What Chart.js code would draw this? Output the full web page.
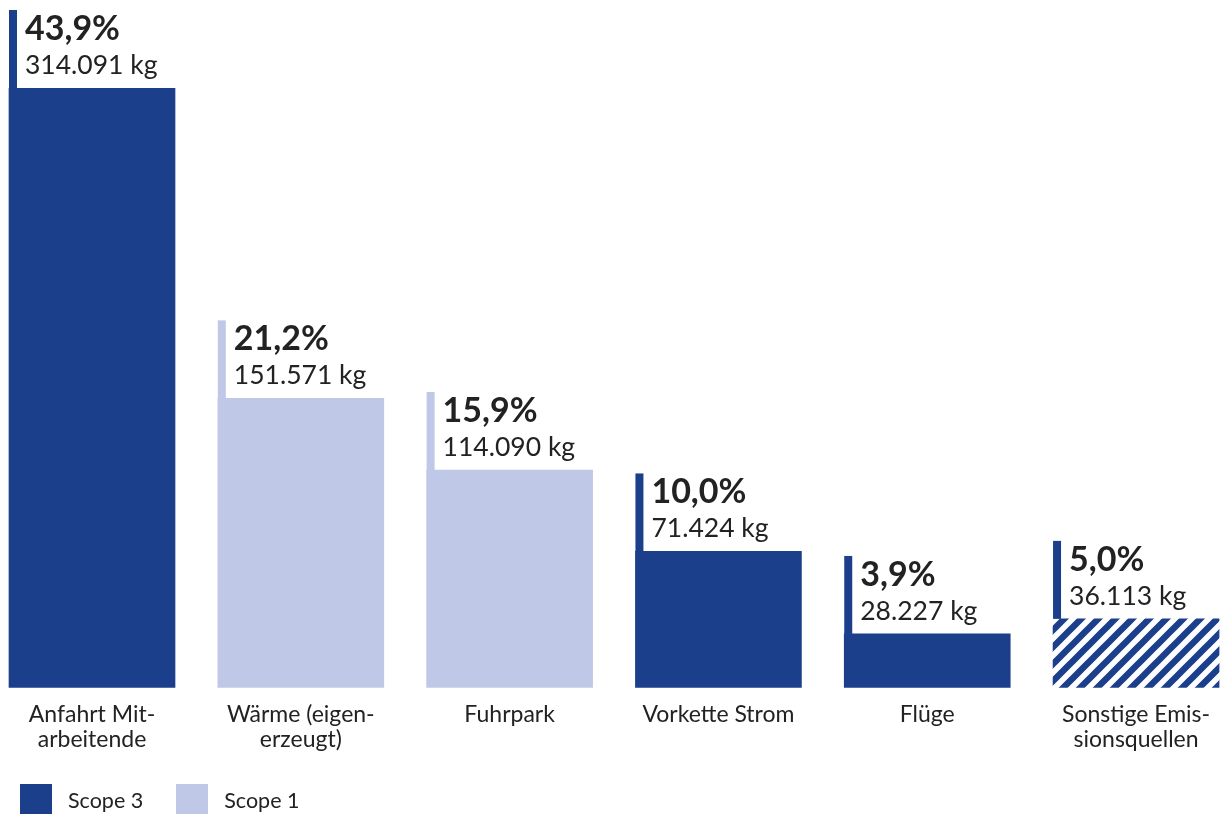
<!DOCTYPE html>
<html>
<head>
<meta charset="utf-8">
<script src="https://cdn.jsdelivr.net/npm/chart.js@4"></script>
<style>
  html, body { margin: 0; padding: 0; background: #fff; }
  #wrap { position: relative; width: 1225px; height: 814px; overflow: hidden; }
  #legend { position: absolute; left: 20px; top: 784px; font: 21.5px Lato, sans-serif; color: #222; display: flex; }
  .item { display: flex; align-items: center; margin-right: 33px; }
  .box { width: 32px; height: 31px; margin-right: 16px; }
</style>
</head>
<body>
<div id="wrap">
  <canvas id="chart" width="1225" height="814"></canvas>
  <div id="legend"></div>
</div>
<script>
const categories = [
    ['Anfahrt Mit-', 'arbeitende'],
    ['Wärme (eigen-', 'erzeugt)'],
    'Fuhrpark',
    'Vorkette Strom',
    'Flüge',
    ['Sonstige Emis-', 'sionsquellen']
];
const emissionsKg = [314091, 151571, 114090, 71424, 28227, 36113];
const shareLabels = ['43,9%', '21,2%', '15,9%', '10,0%', '3,9%', '5,0%'];
const scopes = ['3', '1', '1', '3', '3', 'other'];

const darkBlue = '#1b3f8a';
const lightBlue = '#bfc8e6';
const fontFamily = 'Lato, sans-serif';

function hatch() {
    const p = 17;
    const c = document.createElement('canvas');
    c.width = p;
    c.height = p;
    const g = c.getContext('2d');
    g.fillStyle = '#fff';
    g.fillRect(0, 0, p, p);
    g.strokeStyle = darkBlue;
    g.lineWidth = 6.5;
    g.beginPath();
    g.moveTo(-p, p); g.lineTo(p, -p);
    g.moveTo(0, p * 2); g.lineTo(p * 2, 0);
    g.moveTo(0, p); g.lineTo(p, 0);
    g.stroke();
    return g.createPattern(c, 'repeat');
}

const ctx = document.getElementById('chart').getContext('2d');
const fills = scopes.map(s => s === '3' ? darkBlue : s === '1' ? lightBlue : hatch());
const stripeColors = scopes.map(s => s === '1' ? lightBlue : darkBlue);

function formatKg(v) {
    return String(v).replace(/\B(?=(\d{3})+(?!\d))/g, '.') + ' kg';
}

// stripe + labels above each bar
const barLabels = {
    id: 'barLabels',
    afterDatasetsDraw(chart) {
        const c = chart.ctx;
        const meta = chart.getDatasetMeta(0);
        meta.data.forEach((bar, i) => {
            const left = bar.x - bar.width / 2;
            const top = bar.y;
            c.save();
            c.fillStyle = stripeColors[i];
            c.fillRect(left, top - 78, 8, 78);
            c.fillStyle = '#222';
            c.textBaseline = 'alphabetic';
            c.font = 'bold 34px ' + fontFamily;
            c.fillText(shareLabels[i], left + 16, top - 48);
            c.font = '26.5px ' + fontFamily;
            c.fillText(formatKg(emissionsKg[i]), left + 16, top - 14);
            c.restore();
        });
    }
};

new Chart(ctx, {
    type: 'bar',
    data: {
        datasets: [{
            data: emissionsKg.map((v, i) => ({ x: i, y: v })),
            backgroundColor: fills,
            borderWidth: 0,
            barThickness: 166,
        }],
    },
    options: {
        responsive: false,
        animation: false,
        layout: { padding: { top: 88, bottom: 56, left: 0, right: 0 } },
        plugins: {
            legend: { display: false },
            tooltip: { enabled: false },
        },
        scales: {
            x: {
                type: 'linear',
                offset: false,
                min: -0.4406,
                max: 5.426,
                grid: { display: false },
                border: { display: false },
                afterBuildTicks: axis => {
                    axis.ticks = categories.map((_, i) => ({ value: i }));
                },
                ticks: {
                    autoSkip: false,
                    maxRotation: 0,
                    padding: 6,
                    color: '#222',
                    font: { family: fontFamily, size: 23, lineHeight: 1.09 },
                    callback: v => categories[v],
                },
            },
            y: {
                display: false,
                min: 0,
                max: 314091,
            },
        },
    },
    plugins: [barLabels],
});

const legendItems = [['Scope 3', darkBlue], ['Scope 1', lightBlue]];
const legendEl = document.getElementById('legend');
legendItems.forEach(([text, color]) => {
    const item = document.createElement('div');
    item.className = 'item';
    item.innerHTML = '<div class="box" style="background:' + color + '"></div><span>' + text + '</span>';
    legendEl.appendChild(item);
});
</script>
</body>
</html>
